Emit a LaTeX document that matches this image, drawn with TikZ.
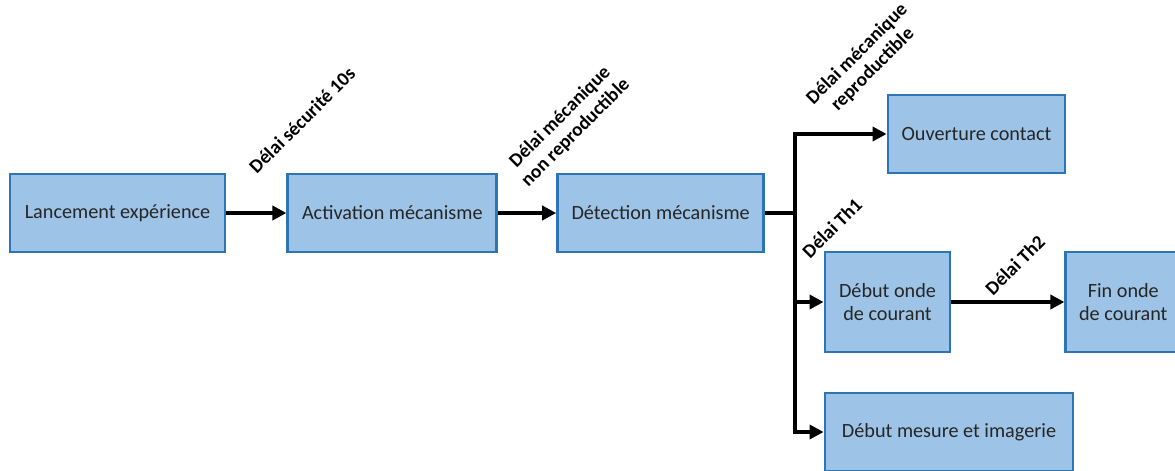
\documentclass[tikz,border=0pt]{standalone}
\usepackage{fontspec}
\setmainfont{Carlito}
\usetikzlibrary{positioning, arrows.meta}
\definecolor{boxfill}{HTML}{9DC3E6}
\definecolor{boxline}{HTML}{2E75B6}
\tikzstyle{block}=[draw=boxline,fill=boxfill,rectangle,line width=1.6pt,inner sep=0pt,minimum height=1.56cm,align=center,text=black!85]
\tikzstyle{every node}=[font=\fontsize{11.5}{13.5}\selectfont]
\tikzstyle{delai}=[rotate=45,align=center,font=\fontsize{11}{12.5}\selectfont\bfseries]

\begin{document}
\begin{tikzpicture}[>={Triangle[length=8pt,width=8pt]}, line width=2.3pt]
            \useasboundingbox (0,0) rectangle (23.5,-9.4);
            \node[block, minimum width=4.3cm] (lanc) at (2.35,-4.26) {Lancement expérience};
            \node[block, minimum width=4.18cm, right=1.2cm of lanc] (activ) {Activation mécanisme};
            \node[block, minimum width=4.12cm, right=1.16cm of activ] (detec) {Détection mécanisme};
            \node[block, minimum width=3.54cm] (ouv) at (19.53,-2.68) {Ouverture contact};
            \node[block, minimum width=2.5cm, minimum height=2cm] (debut) at (17.75,-6.04) {Début onde\\de courant};
            \node[block, minimum width=2.3cm, minimum height=2cm, right=2.26cm of debut] (fin) {Fin onde\\de courant};
            \node[block, minimum width=4.96cm] (mesure) at (18.98,-8.64) {Début mesure et imagerie};
            \coordinate (trunk) at (15.9,-4.26);
            % delais
            \node[delai] (d1) at (6.04,-2.4) {Délai sécurité 10s};
            \node[delai] (d2) at (11.36,-2.5) {Délai mécanique\\non reproductible};
            \node[delai] (d3) at (17.3,-1.24) {Délai mécanique\\reproductible};
            \node[delai] (d4) at (16.64,-4.56) {Délai Th1};
            \node[delai] (d5) at (20.3,-5.3) {Délai Th2};
            \draw[->] (lanc) -- (activ);
            \draw[->] (activ) -- (detec);
            \draw (detec) -- (trunk);
            \draw[->] (trunk) |- (ouv);
            \draw[->] (trunk) |- (debut);
            \draw[->] (trunk) |- (mesure);
            \draw[->] (debut) -- (fin);
        \end{tikzpicture}
\end{document}
